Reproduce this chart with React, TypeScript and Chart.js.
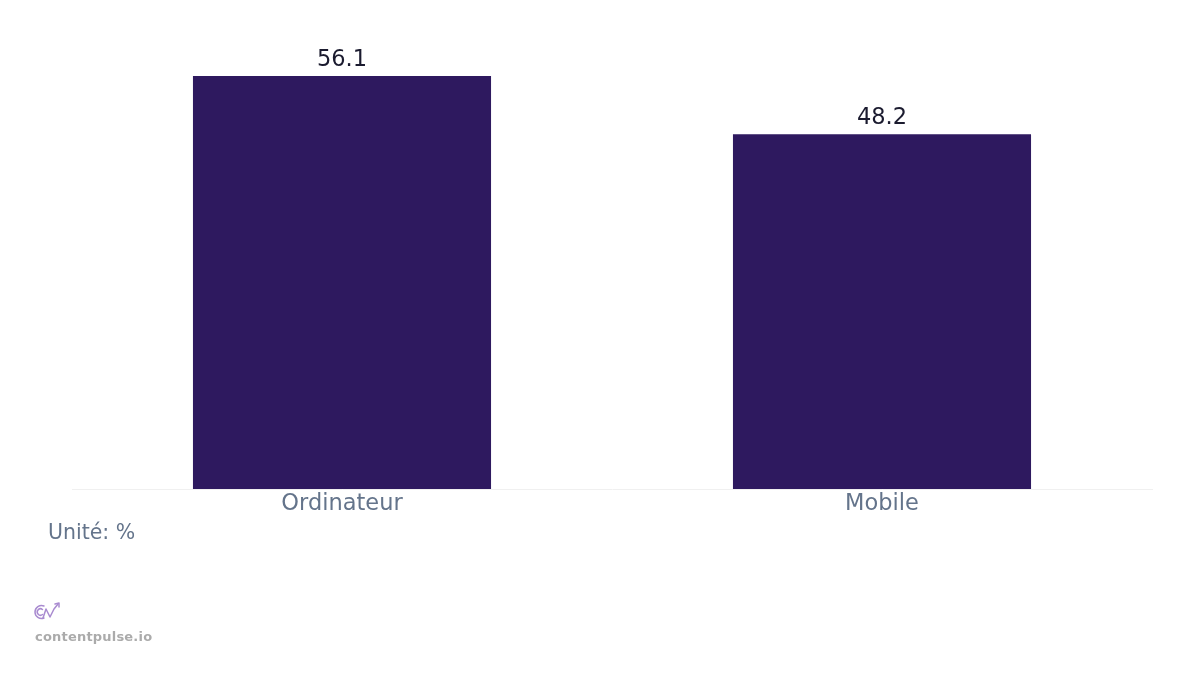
import { Chart, registerables } from 'chart.js';
import { useEffect, useRef } from 'react';

Chart.register(...registerables);

const categories = ['Ordinateur', 'Mobile'];
const shareValues = [56.1, 48.2];
const unitLabel = 'Unité: %';
const sourceLabel = 'contentpulse.io';

const FONT = "'DejaVu Sans', sans-serif";

// etiquettes de valeur au-dessus des barres
const valueLabels = {
  id: 'valueLabels',
  afterDatasetsDraw(chart: Chart) {
    const ctx = chart.ctx;
    const meta = chart.getDatasetMeta(0);
    ctx.save();
    ctx.font = `22.5px ${FONT}`;
    ctx.fillStyle = '#1b1b2f';
    ctx.textAlign = 'center';
    ctx.textBaseline = 'middle';
    meta.data.forEach((bar: any, i: number) => {
      ctx.fillText(String(shareValues[i]), bar.x, bar.y - 16);
    });
    ctx.restore();
  }
};

export default function App() {
  const chartRef = useRef<HTMLCanvasElement>(null);
  const chartInstanceRef = useRef<Chart | null>(null);

  useEffect(() => {
    if (!chartRef.current) return;
    const ctx = chartRef.current.getContext('2d');
    if (!ctx) return;

    if (chartInstanceRef.current) {
      chartInstanceRef.current.destroy();
    }

    chartInstanceRef.current = new Chart(ctx, {
      type: 'bar',
      data: {
        labels: categories,
        datasets: [
          {
            data: shareValues,
            backgroundColor: '#2e195f',
            barPercentage: 0.552,
            categoryPercentage: 1
          }
        ]
      },
      options: {
        responsive: true,
        maintainAspectRatio: false,
        animation: false,
        layout: {
          padding: { left: 72, right: 48, top: 34.7, bottom: 0 }
        },
        scales: {
          x: {
            grid: { display: false, drawTicks: false },
            border: { display: true, color: '#f0f0f0', width: 1 },
            ticks: {
              padding: 2,
              color: '#64748b',
              font: { family: FONT, size: 22.5 }
            }
          },
          y: {
            display: false,
            min: 0,
            max: 61.71
          }
        },
        plugins: {
          legend: { display: false },
          tooltip: { enabled: false }
        }
      },
      plugins: [valueLabels]
    });

    return () => {
      if (chartInstanceRef.current) {
        chartInstanceRef.current.destroy();
        chartInstanceRef.current = null;
      }
    };
  }, []);

  return (
    <div style={{ position: 'absolute', left: 0, top: 0, width: 1200, height: 675, background: '#fff', fontFamily: FONT }}>
      <div style={{ position: 'absolute', left: 0, top: 0, width: 1200, height: 520 }}>
        <canvas ref={chartRef} />
      </div>
      <div style={{ position: 'absolute', left: 48, top: 518, fontSize: 20.5, color: '#64748b', lineHeight: '28px' }}>
        {unitLabel}
      </div>
      <svg style={{ position: 'absolute', left: 33, top: 601 }} width="30" height="22" viewBox="0 0 30 22">
        <g fill="none" stroke="#a98bd0" strokeWidth="1.5" strokeLinecap="round" strokeLinejoin="round">
          <path d="M11 5 A6.5 6.5 0 1 0 11 17" />
          <path d="M9.5 8.5 A3.2 3.2 0 1 0 9.5 13.5" />
          <path d="M10 17 L13 8 L17 16 L21 8 L25 3" />
          <path d="M22 3 L26 2 L26 6" />
        </g>
      </svg>
      <div style={{ position: 'absolute', left: 35, top: 629, fontSize: 13, fontWeight: 'bold', color: '#ababab', letterSpacing: 0.2 }}>
        {sourceLabel}
      </div>
    </div>
  );
}
